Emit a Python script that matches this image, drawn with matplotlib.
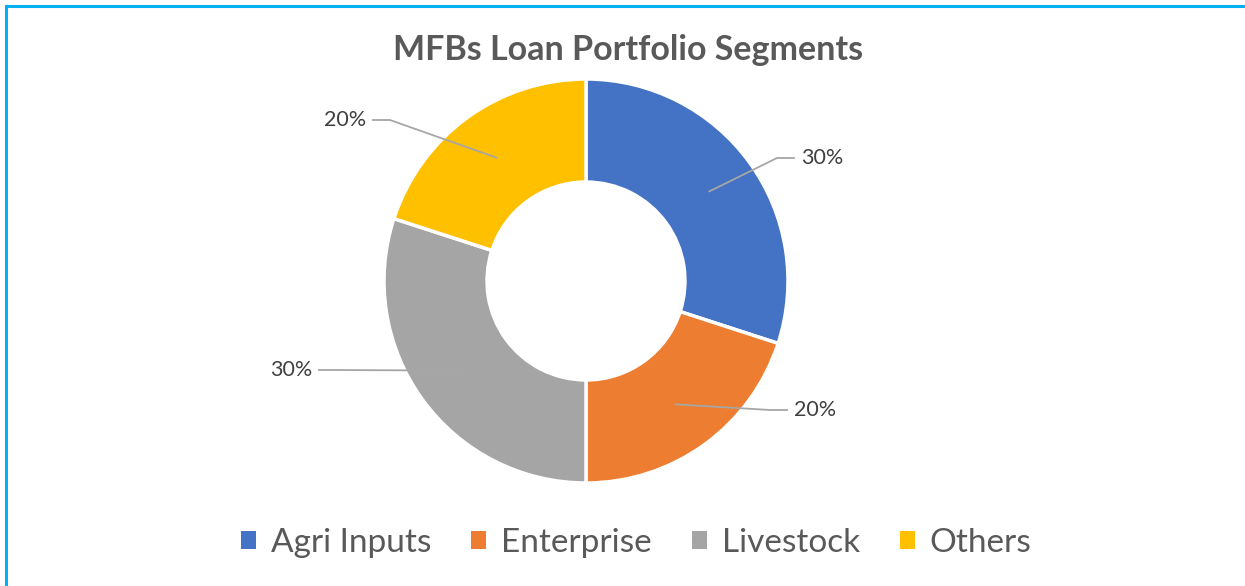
import numpy as np
import matplotlib.pyplot as plt
from matplotlib.patches import Patch

# Daten
segments = ["Agri Inputs", "Enterprise", "Livestock", "Others"]
shares = [30, 20, 30, 20]
colors = ["#4472C4", "#ED7D31", "#A5A5A5", "#FFC000"]
# Label-Positionen (Pixel, von oben links) je Segment
label_pos = [(822, 158), (815, 410), (291, 370), (345, 120)]

W, H = 1245, 586
plt.rcParams["font.family"] = ["Lato", "DejaVu Sans"]

fig = plt.figure(figsize=(W / 100, H / 100), dpi=100)
ax = fig.add_axes([0, 0, 1, 1])

cx, cy, R = 586, H - 281, 202
wedges, _ = ax.pie(shares, colors=colors, startangle=90, counterclock=False,
                   center=(cx, cy), radius=R, frame=True,
                   wedgeprops=dict(width=R * 0.51, edgecolor="white", linewidth=2.5))
ax.set_xlim(0, W)
ax.set_ylim(0, H)
ax.set_aspect("equal")
ax.axis("off")

# Prozent-Labels mit Fuehrungslinien
r_mid = R * 0.755
for w, val, (lx, ly) in zip(wedges, shares, label_pos):
    ang = np.deg2rad((w.theta1 + w.theta2) / 2)
    px, py = cx + r_mid * np.cos(ang), cy + r_mid * np.sin(ang)
    ly = H - ly
    if lx > cx:
        ex = lx - 28
        kx = ex - 17
    else:
        ex = lx + 28
        kx = ex + 17
    ax.plot([px, kx, ex], [py, ly, ly], color="#A6A6A6", lw=1.3, zorder=3)
    ax.text(lx, ly, f"{val}%", ha="center", va="center", fontsize=15.5, color="#404040")

ax.text(628, H - 50, "MFBs Loan Portfolio Segments", ha="center", va="center",
        fontsize=24.5, fontweight="bold", color="#595959")

handles = [Patch(facecolor=c, edgecolor="none") for c in colors]
fig.legend(handles, segments, loc="center", bbox_to_anchor=(636 / W, 1 - 543 / H), ncol=4,
           frameon=False, fontsize=24, labelcolor="#595959", handlelength=0.45, handleheight=0.45,
           handletextpad=0.45, columnspacing=1.2)

# Rahmen (oben und links)
fig.add_artist(plt.Line2D([6 / W, 6 / W], [0, 1 - 6 / H], color="#00B0F0", lw=2.2, transform=fig.transFigure))
fig.add_artist(plt.Line2D([6 / W, 1], [1 - 6 / H, 1 - 6 / H], color="#00B0F0", lw=2.2, transform=fig.transFigure))

fig.savefig("out.png", dpi=100)
